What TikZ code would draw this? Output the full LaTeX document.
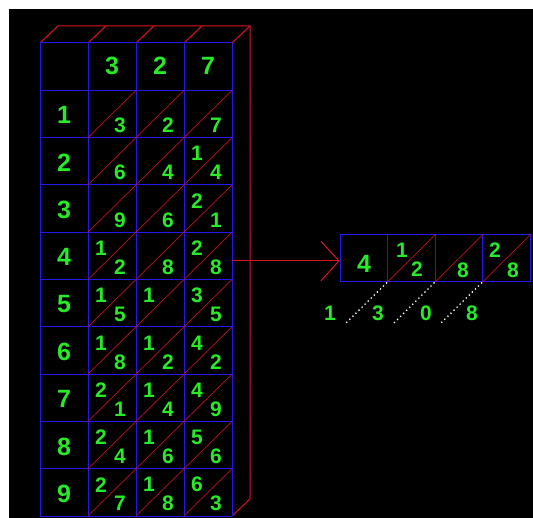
\documentclass[tikz,border=0pt]{standalone}
\usepackage{fontspec}
\setmainfont{Liberation Sans}
\usetikzlibrary{arrows.meta}
\definecolor{gridblue}{RGB}{35,25,235}
\definecolor{boxred}{RGB}{220,20,35}
\definecolor{digitgreen}{RGB}{40,235,40}

\begin{document}
\begin{tikzpicture}[x=1pt,y=-1pt,
  cellline/.style={gridblue,line width=1pt},
  edge/.style={boxred,line width=1pt},
  diag/.style={boxred!85!black,line width=0.7pt},
  cellbox/.style={draw=gridblue,line width=1pt,minimum width=47.5pt,minimum height=47pt,inner sep=0pt},
  big/.style={text=digitgreen,font=\bfseries\fontsize{25}{25}\selectfont,inner sep=0pt},
  small/.style={text=digitgreen,font=\bfseries\fontsize{21}{21}\selectfont,inner sep=0pt},
  dots/.style={white,line width=1.3pt,dash pattern=on 1.3pt off 3pt}
]
\useasboundingbox (0,0) rectangle (533,518);
\fill[white] (0,0) rectangle (533,518);
\fill[black] (9,9) rectangle (533,518);

% box seen in depth
\draw[edge] (58,26) -- (250,26) -- (250,499) -- (232,516);
\foreach \i in {0,...,4}
  \draw[edge] ({40+48*\i},43) -- ({58+48*\i},26);

% grid of the table
\foreach \i in {0,...,4}
  \draw[cellline] ({40+48*\i},43) -- ({40+48*\i},516);
\foreach \j in {0,...,10}
  \draw[cellline] (40,{43+47.3*\j}) -- (232,{43+47.3*\j});

\foreach \c/\m in {1/3,2/2,3/7}
  \node[big] (head\c) at ({64+48*\c},66) {\m};

\foreach \r in {1,...,9}{
  \node[big] (row\r) at (64,{43+47.3*\r+25}) {\r};
  \foreach \c/\m in {1/3,2/2,3/7}{
    \pgfmathtruncatemacro\pp{\r*\m}
    \pgfmathtruncatemacro\tens{\pp/10}
    \pgfmathtruncatemacro\units{mod(\pp,10)}
    \draw[diag] ({40+48*\c},{43+47.3*(\r+1)}) -- ({88+48*\c},{43+47.3*\r});
    \ifnum\tens>0 \node[small] (t\r\c) at ({53+48*\c},{59+47.3*\r}) {\tens};\fi
    \ifnum\units>0 \node[small] (u\r\c) at ({72+48*\c},{78+47.3*\r}) {\units};\fi
  }
}

% row of the result
\node[cellbox] (res1) at (363.75,258.5) {};
\node[cellbox] (res2) at (411.25,258.5) {};
\node[cellbox] (res3) at (458.75,258.5) {};
\node[cellbox] (res4) at (506.25,258.5) {};
\foreach \k in {2,3,4}
  \draw[diag] (res\k.south west) -- (res\k.north east);
\node[big] (r4) at (364,264) {4};
\node[small] (r1t) at (402,250) {1};
\node[small] (r2u) at (417,269) {2};
\node[small] (r8u) at (463,270) {8};
\node[small] (r2t) at (495,250) {2};
\node[small] (r8b) at (513,270) {8};

\coordinate (src) at (232,261);
\draw[edge,-{Straight Barb[length=18pt,width=40pt]}] (src) -- (src -| res1.west);

% sum along the diagonals
\coordinate (d1) at (345,324);
\coordinate (d2) at (393,324);
\coordinate (d3) at (440,324);
\draw[dots] (res2.south west) -- (d1);
\draw[dots] (res3.south west) -- (d2);
\draw[dots] (res4.south west) -- (d3);
\node[small] (s1) at (330,313) {1};
\node[small] (s3) at (378,313) {3};
\node[small] (s0) at (426,313) {0};
\node[small] (s8) at (472,313) {8};
\end{tikzpicture}
\end{document}
